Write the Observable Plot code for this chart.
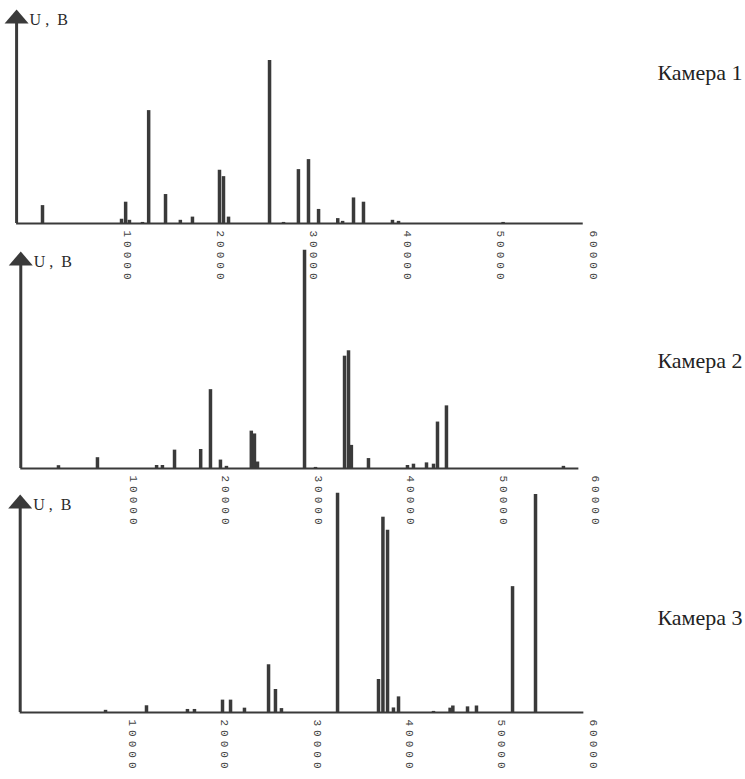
<!DOCTYPE html>
<html><head><meta charset="utf-8">
<script src="https://cdn.jsdelivr.net/npm/d3@7"></script>
<script src="https://cdn.jsdelivr.net/npm/@observablehq/plot@0.6"></script>
<style>
body{margin:0;background:#fff;}
#wrap{position:relative;width:745px;height:779px;overflow:hidden;background:#fff;}
#wrap svg{position:absolute;left:0;background:transparent !important;}
</style></head><body><div id="wrap"></div>
<script>
// ---- data ----
const cameras = ["Камера 1", "Камера 2", "Камера 3"];
const tickValues = [10000, 20000, 30000, 40000, 50000, 60000];
const yLabel = "U\u00a0,\u00a0\u00a0В";

const cam1Pos = [880, 9360, 9800, 10210, 11610, 12270, 14080, 15670, 16970, 19870, 20300, 20840, 25240, 26740, 28340, 29420, 30500, 32560, 33080, 34250, 35320, 38430, 39080, 50300];
const cam1Amp = [8.4, 2, 10, 1.5, 0.5, 53, 13.6, 1.5, 3, 25, 22, 3, 76.5, 0.5, 25.3, 30, 6.6, 2.3, 1, 12, 10, 1.5, 1, 0.5];

const cam2Pos = [1880, 6100, 12500, 13130, 14440, 17270, 18330, 19410, 20060, 22750, 23090, 23420, 28510, 29700, 32840, 33270, 33580, 35430, 39650, 40300, 41710, 42470, 42900, 43870, 56530];
const cam2Amp = [1.3, 5, 1.4, 1.4, 8.5, 8.8, 36.5, 3.9, 1, 17.3, 16, 3, 101, 0.5, 52, 54.5, 10.7, 4.6, 1.4, 2, 2.6, 2, 21.5, 29, 1];

const cam3Pos = [7050, 11490, 15930, 16690, 19730, 20600, 22110, 24720, 25470, 26120, 32200, 36640, 37120, 37620, 38260, 38810, 42600, 44400, 44700, 46290, 47260, 51170, 53660];
const cam3Amp = [1, 3.1, 1.4, 1.4, 5.7, 5.7, 2, 22, 10.6, 1.8, 101, 15.2, 90, 84, 2.1, 7.2, 0.5, 2, 3, 2.6, 3, 58, 100.5];

const series = [[cam1Pos, cam1Amp], [cam2Pos, cam2Amp], [cam3Pos, cam3Amp]];

// ---- layout (per panel) ----
const panels = [
  {top: 0,   base: 223, tip: 10, xr: [33.8, 593], axisStart: -1900, axisEnd: 58900, camY: 72},
  {top: 240, base: 228, tip: 12, xr: [40.6, 595], axisStart: -2200, axisEnd: 58200, camY: 120},
  {top: 484, base: 228, tip: 11, xr: [40, 593.5], axisStart: -2200, axisEnd: 58900, camY: 133}
];

const ink = "#3a3a3a";
const arrowHead = {
  draw(ctx, size) {
    const r = Math.sqrt(size / Math.PI);
    ctx.moveTo(0, -1);
    ctx.lineTo(r, r * 13 / 12);
    ctx.lineTo(-r, r * 13 / 12);
    ctx.closePath();
  }
};

const wrap = document.getElementById("wrap");
panels.forEach((p, i) => {
  const [pos, amp] = series[i];
  const data = pos.map((x, k) => ({x, u: amp[k]}));
  const svg = Plot.plot({
    width: 745,
    height: 300,
    marginTop: 0, marginRight: 0, marginBottom: 0, marginLeft: 0,
    style: {background: "transparent", overflow: "visible"},
    x: {domain: [0, 60000], range: p.xr, axis: null},
    y: {domain: [0, 100], range: [p.base, p.tip], axis: null},
    marks: [
      Plot.ruleY([0], {x1: p.axisStart, x2: p.axisEnd, stroke: ink, strokeWidth: 2}),
      Plot.ruleX(data, {x: "x", y1: 0, y2: "u", stroke: ink, strokeWidth: 3.5}),
      Plot.ruleX([p.axisStart], {y1: 0, y2: 97, stroke: ink, strokeWidth: 3}),
      Plot.dot([p.axisStart], {x: d => d, y: 100, symbol: arrowHead, r: 12, fill: ink, stroke: null}),
      Plot.text([yLabel], {x: p.axisStart, y: 100, dx: 13, dy: 9, text: d => d, textAnchor: "start",
        fontSize: 16, fontFamily: "Liberation Serif", fill: "#2a2a2a"}),
      Plot.text(tickValues, {x: d => d, y: 0, text: d => String(d), rotate: 90, textAnchor: "start",
        dy: 7, fontSize: 11, fontFamily: "Liberation Mono", fill: "#444"}),
      Plot.text([cameras[i]], {frameAnchor: "top-right", lineAnchor: "middle", textAnchor: "end",
        dx: -3, dy: p.camY, text: d => d, fontSize: 22, fontFamily: "Liberation Serif", fill: "#222"})
    ]
  });
  svg.querySelectorAll("text").forEach(t => {
    if (/rotate\(90\)/.test(t.getAttribute("transform") || "")) t.style.letterSpacing = "4px";
  });
  svg.style.top = p.top + "px";
  wrap.appendChild(svg);
});
</script>
</body></html>
